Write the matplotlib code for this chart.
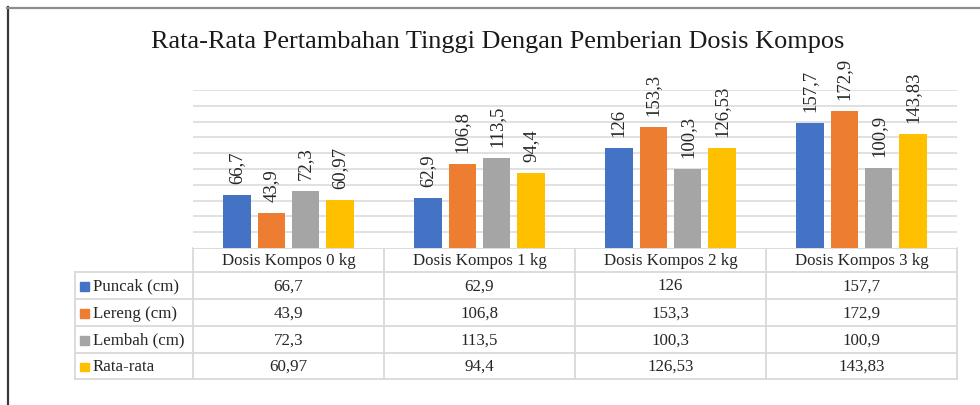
import numpy as np
import matplotlib
matplotlib.use("Agg")
import matplotlib.pyplot as plt

plt.rcParams['font.family'] = ['Liberation Serif', 'DejaVu Serif']

# data
kategori = ["Dosis Kompos 0 kg", "Dosis Kompos 1 kg", "Dosis Kompos 2 kg", "Dosis Kompos 3 kg"]
seri = ["Puncak (cm)", "Lereng (cm)", "Lembah (cm)", "Rata-rata"]
puncak = [66.7, 62.9, 126, 157.7]
lereng = [43.9, 106.8, 153.3, 172.9]
lembah = [72.3, 113.5, 100.3, 100.9]
rata = [60.97, 94.4, 126.53, 143.83]
warna = ["#4472C4", "#ED7D31", "#A5A5A5", "#FFC000"]
judul = "Rata-Rata Pertambahan Tinggi Dengan Pemberian Dosis Kompos"

def fmt(v):
    s = ("%.2f" % v).rstrip("0").rstrip(".")
    return s.replace(".", ",")

W, H = 980, 405
fig = plt.figure(figsize=(W/100, H/100), dpi=100)

# background axes in pixel units for frame, title, table
bg = fig.add_axes([0, 0, 1, 1])
bg.set_xlim(0, W)
bg.set_ylim(H, 0)
bg.axis("off")

# bar axes
x0, x1, ytop, ybase = 193, 957, 90, 248
ax = fig.add_axes([x0/W, 1-ybase/H, (x1-x0)/W, (ybase-ytop)/H])
ax.set_xlim(-0.5, 3.5)
ax.set_ylim(0, 200)
ax.set_yticks(np.arange(20, 201, 20))
ax.grid(axis="y", color="#D9D9D9", lw=1.1)
ax.set_axisbelow(True)
for s in ax.spines.values():
    s.set_visible(False)
ax.tick_params(left=False, bottom=False, labelleft=False, labelbottom=False)

data = [puncak, lereng, lembah, rata]
x = np.arange(len(kategori))
offs = [-0.27, -0.09, 0.09, 0.27]
for i, vals in enumerate(data):
    bars = ax.bar(x + offs[i], vals, width=0.144, color=warna[i], zorder=3)
    for b, v in zip(bars, vals):
        ax.annotate(fmt(v), (b.get_x() + b.get_width()/2, v), xytext=(0, 8),
                    textcoords="offset points", rotation=90, ha="center", va="bottom",
                    fontsize=13.5, color="#262626")

# frame
bg.plot([7.5, 7.5], [7, H], color="#3a3a3a", lw=1.6)
bg.plot([7, W], [7.5, 7.5], color="#8c8c8c", lw=1.6)

# title
bg.text(498, 42, judul, ha="center", va="center", fontsize=18.9, color="#1a1a1a")

# table
lc = "#D9D9D9"
colx = np.linspace(x0, x1, len(kategori) + 1)
lab_x = 75
rows_y = [248, 272, 299, 326, 353, 379]
for yy in rows_y[1:]:
    bg.plot([lab_x, x1], [yy, yy], color=lc, lw=1.3)
bg.plot([x0, x1], [rows_y[0], rows_y[0]], color=lc, lw=1.3)
bg.plot([lab_x, lab_x], [rows_y[1], rows_y[-1]], color=lc, lw=1.3)
for cx in colx:
    bg.plot([cx, cx], [rows_y[0], rows_y[-1]], color=lc, lw=1.3)

for j, k in enumerate(kategori):
    bg.text((colx[j] + colx[j+1])/2, (rows_y[0] + rows_y[1])/2 + 1, k,
            ha="center", va="center", fontsize=12.2, color="#262626")

for i, nama in enumerate(seri):
    yc = (rows_y[i+1] + rows_y[i+2])/2 + 1
    bg.add_patch(plt.Rectangle((80, yc - 4.5), 8.5, 8.5, color=warna[i]))
    bg.text(93, yc, nama, ha="left", va="center", fontsize=12.2, color="#262626")
    for j in range(len(kategori)):
        bg.text((colx[j] + colx[j+1])/2, yc, fmt(data[i][j]),
                ha="center", va="center", fontsize=12.2, color="#262626")

fig.savefig("out.png", dpi=100, facecolor="white")
